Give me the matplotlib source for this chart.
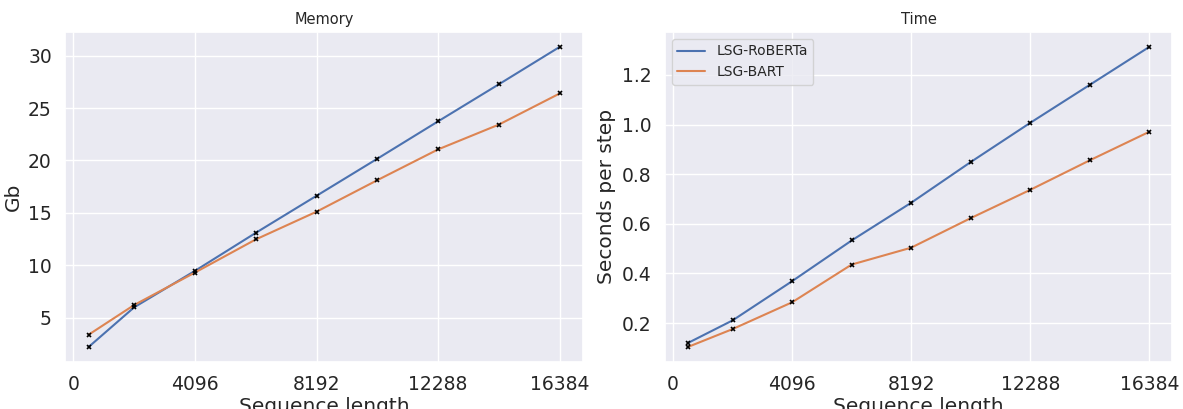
import matplotlib
matplotlib.use("Agg")
import matplotlib.pyplot as plt
import seaborn as sns

sns.set_theme(style="darkgrid")

seq_len = [512, 2048, 4096, 6144, 8192, 10240, 12288, 14336, 16384]
xticks = [0, 4096, 8192, 12288, 16384]

mem_roberta = [2.19, 5.98, 9.46, 13.09, 16.63, 20.17, 23.74, 27.28, 30.85]
mem_bart = [3.36, 6.2, 9.3, 12.46, 15.11, 18.12, 21.06, 23.43, 26.4]

time_roberta = [0.12, 0.211, 0.369, 0.533, 0.685, 0.849, 1.007, 1.16, 1.313]
time_bart = [0.104, 0.176, 0.284, 0.436, 0.504, 0.623, 0.737, 0.856, 0.971]

blue = "#4c72b0"
orange = "#dd8452"

fig = plt.figure(figsize=(11.83, 4.09), dpi=100)
ax1 = fig.add_axes([0.055, 0.115, 0.438, 0.807])
ax2 = fig.add_axes([0.562, 0.115, 0.429, 0.807])

panels = [
    (ax1, mem_roberta, mem_bart, "Memory", "Gb"),
    (ax2, time_roberta, time_bart, "Time", "Seconds per step"),
]

for ax, a, b, title, ylabel in panels:
    ax.plot(seq_len, a, color=blue, lw=1.5, label="LSG-RoBERTa")
    ax.plot(seq_len, b, color=orange, lw=1.5, label="LSG-BART")
    # black cross markers on top of both curves
    ax.plot(seq_len, a, "x", color="black", ms=3.5, mew=1.2)
    ax.plot(seq_len, b, "x", color="black", ms=3.5, mew=1.2)
    ax.set_xticks(xticks)
    ax.tick_params(labelsize=13.5)
    ax.set_title(title, fontsize=10.5)
    ax.set_xlabel("Sequence length", fontsize=14.5, labelpad=2)
    ax.set_ylabel(ylabel, fontsize=14.5)

ax1.set_yticks([5, 10, 15, 20, 25, 30])
ax2.set_yticks([0.2, 0.4, 0.6, 0.8, 1.0, 1.2])
ax2.legend(loc="upper left", fontsize=10)

fig.savefig("out.png", dpi=100)
